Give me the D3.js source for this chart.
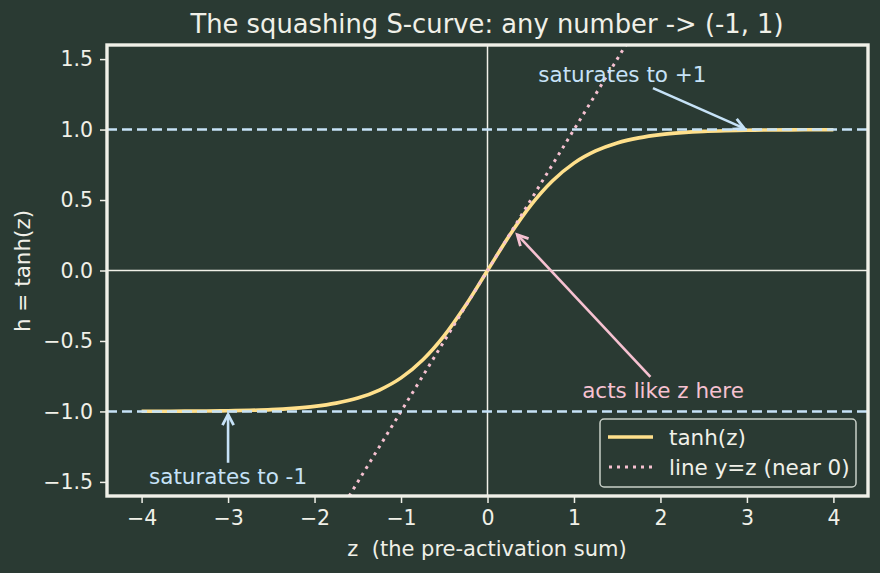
<!DOCTYPE html>
<html>
<head>
<meta charset="utf-8">
<script src="https://cdn.jsdelivr.net/npm/d3@7"></script>
<style>
  body { margin: 0; background: #2a3a33; }
  svg { display: block; font-family: "DejaVu Sans", sans-serif; }
</style>
</head>
<body>
<svg width="880" height="573"></svg>
<script>
// values
var zTicks = [-4, -3, -2, -1, 0, 1, 2, 3, 4];
var hTicks = [-1.5, -1.0, -0.5, 0.0, 0.5, 1.0, 1.5];

var zs = [-4, -3.75, -3.5, -3.25, -3, -2.75, -2.5, -2.25, -2, -1.75, -1.5, -1.25, -1, -0.75, -0.5, -0.25,
          0, 0.25, 0.5, 0.75, 1, 1.25, 1.5, 1.75, 2, 2.25, 2.5, 2.75, 3, 3.25, 3.5, 3.75, 4];
var hs = [-0.999, -0.999, -0.998, -0.997, -0.995, -0.992, -0.987, -0.978, -0.964, -0.941, -0.905, -0.848, -0.762, -0.635, -0.462, -0.245,
          0, 0.245, 0.462, 0.635, 0.762, 0.848, 0.905, 0.941, 0.964, 0.978, 0.987, 0.992, 0.995, 0.997, 0.998, 0.999, 0.999];

var identZ = [-1.6, 1.6];
var identY = [-1.6, 1.6];

var limits = [-1, 1];

var notes = [
  { text: "saturates to +1", x: 3, y: 1.0, tx: 1.56, ty: 1.39, color: "#c6e2f7" },
  { text: "saturates to -1", x: -3, y: -1.0, tx: -3.0, ty: -1.46, color: "#c6e2f7" },
  { text: "acts like z here", x: 0.32, y: 0.27, tx: 2.03, ty: -0.85, color: "#f6c1d1" }
];

var width = 880, height = 573;
var bg = "#2a3a33", fg = "#f0f0e8";
var yellow = "#ffe08c", pink = "#f6c1d1", blue = "#c6e2f7";
var fs = 21.5;

var svg = d3.select("svg");
svg.append("rect").attr("width", width).attr("height", height).attr("fill", bg);

var x = d3.scaleLinear().domain([-4.4, 4.4]).range([107, 868]);
var y = d3.scaleLinear().domain([-1.6, 1.6]).range([496, 45]);

svg.append("defs").append("clipPath").attr("id", "plot")
  .append("rect").attr("x", 107).attr("y", 45).attr("width", 761).attr("height", 451);

var plot = svg.append("g").attr("clip-path", "url(#plot)");

// zero lines
plot.append("line")
  .attr("x1", 107).attr("x2", 868).attr("y1", y(0)).attr("y2", y(0))
  .attr("stroke", fg).attr("stroke-width", 1.5);
plot.append("line")
  .attr("x1", x(0)).attr("x2", x(0)).attr("y1", 45).attr("y2", 496)
  .attr("stroke", fg).attr("stroke-width", 1.5);

var line = d3.line().x(d => x(d[0])).y(d => y(d[1])).curve(d3.curveMonotoneX);

plot.append("path")
  .datum(zs.map((z, i) => [z, hs[i]]))
  .attr("d", line)
  .attr("fill", "none").attr("stroke", yellow).attr("stroke-width", 3.6);

plot.append("path")
  .datum(identZ.map((z, i) => [z, identY[i]]))
  .attr("d", d3.line().x(d => x(d[0])).y(d => y(d[1])))
  .attr("fill", "none").attr("stroke", pink).attr("stroke-width", 3)
  .attr("stroke-dasharray", "3,5");

plot.selectAll(".lim")
  .data(limits)
  .join("line")
  .attr("class", "lim")
  .attr("x1", 107).attr("x2", 868)
  .attr("y1", d => y(d)).attr("y2", d => y(d))
  .attr("stroke", blue).attr("stroke-width", 2.4)
  .attr("stroke-dasharray", "10,5");

// axes
var xAxis = svg.append("g").attr("transform", "translate(0,496)")
  .call(d3.axisBottom(x).tickValues(zTicks).tickSize(7).tickPadding(7).tickFormat(d3.format("d")));
var yAxis = svg.append("g").attr("transform", "translate(107,0)")
  .call(d3.axisLeft(y).tickValues(hTicks).tickSize(7).tickPadding(7).tickFormat(d3.format(".1f")));

[xAxis, yAxis].forEach(function (a) {
  a.select(".domain").remove();
  a.selectAll(".tick line").attr("stroke", fg).attr("stroke-width", 1.5);
  a.selectAll(".tick text").attr("fill", fg).attr("font-size", 20.5).attr("font-family", "DejaVu Sans");
});

// frame
svg.append("rect")
  .attr("x", 107).attr("y", 45).attr("width", 761).attr("height", 451)
  .attr("fill", "none").attr("stroke", fg).attr("stroke-width", 3.4);

// labels
svg.append("text")
  .attr("x", 487).attr("y", 24).attr("dy", "0.35em")
  .attr("text-anchor", "middle").attr("fill", fg).attr("font-size", 25.8)
  .text("The squashing S-curve: any number -> (-1, 1)");

svg.append("text")
  .attr("x", 487).attr("y", 549).attr("dy", "0.35em")
  .attr("text-anchor", "middle").attr("fill", fg).attr("font-size", 21)
  .style("white-space", "pre")
  .text("z  (the pre-activation sum)");

svg.append("text")
  .attr("transform", "translate(22,271) rotate(-90)").attr("dy", "0.35em")
  .attr("text-anchor", "middle").attr("fill", fg).attr("font-size", fs)
  .text("h = tanh(z)");

// annotations
notes.forEach(function (n) {
  var t = svg.append("text")
    .attr("x", x(n.tx)).attr("y", y(n.ty)).attr("dy", "0.35em")
    .attr("text-anchor", "middle").attr("fill", n.color).attr("font-size", fs)
    .text(n.text);
  var b = t.node().getBBox();
  var cx = x(n.tx), cy = y(n.ty), px = x(n.x), py = y(n.y);
  var dx = px - cx, dy = py - cy;
  // leave the text box
  var hw = b.width / 2 + 3, hh = b.height / 2 + 1;
  var s = Math.min(dx ? hw / Math.abs(dx) : Infinity, dy ? hh / Math.abs(dy) : Infinity);
  var sx = cx + dx * s, sy = cy + dy * s;
  var len = Math.hypot(px - sx, py - sy);
  var ux = (px - sx) / len, uy = (py - sy) / len;
  var ex = px - ux * 3, ey = py - uy * 3;
  svg.append("line")
    .attr("x1", sx).attr("y1", sy).attr("x2", ex).attr("y2", ey)
    .attr("stroke", n.color).attr("stroke-width", 2.6);
  var hl = 12, ang = Math.PI / 6.5;
  var a = Math.atan2(uy, ux);
  svg.append("path")
    .attr("d", "M" + (ex - hl * Math.cos(a - ang)) + "," + (ey - hl * Math.sin(a - ang)) +
               "L" + ex + "," + ey +
               "L" + (ex - hl * Math.cos(a + ang)) + "," + (ey - hl * Math.sin(a + ang)))
    .attr("fill", "none").attr("stroke", n.color).attr("stroke-width", 2.8)
    .attr("stroke-linejoin", "miter");
});

// legend
var leg = svg.append("g").attr("transform", "translate(600,419)");
leg.append("rect")
  .attr("width", 256).attr("height", 68).attr("rx", 4)
  .attr("fill", bg).attr("stroke", "#c8d0c8").attr("stroke-width", 1.5);
leg.append("line").attr("x1", 8).attr("x2", 53).attr("y1", 18).attr("y2", 18)
  .attr("stroke", yellow).attr("stroke-width", 3.6);
leg.append("line").attr("x1", 9).attr("x2", 54).attr("y1", 48).attr("y2", 48)
  .attr("stroke", pink).attr("stroke-width", 3).attr("stroke-dasharray", "3,5");
leg.append("text").attr("x", 69).attr("y", 18).attr("dy", "0.35em")
  .attr("fill", fg).attr("font-size", fs).text("tanh(z)");
leg.append("text").attr("x", 69).attr("y", 48).attr("dy", "0.35em")
  .attr("fill", fg).attr("font-size", fs).text("line y=z (near 0)");
</script>
</body>
</html>
